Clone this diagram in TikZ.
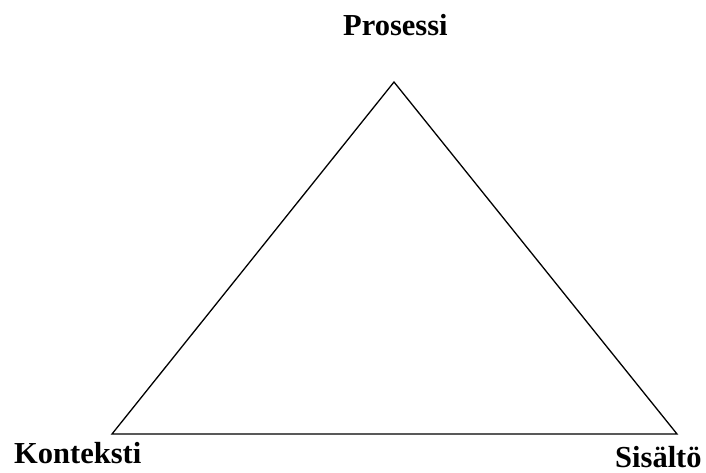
\documentclass[tikz,border=0pt]{standalone}
\usepackage{fontspec}
\setmainfont{Liberation Serif}
\usepackage{tikz}
\usetikzlibrary{positioning}

\tikzset{
    corner/.style={font=\fontsize{30.5}{36}\selectfont\bfseries, inner sep=0pt, anchor=base west},
    side/.style={line width=1.3pt}
}

\begin{document}
\begin{tikzpicture}[x=1pt, y=-1pt]
    \useasboundingbox (0,0) rectangle (706,473);

    % Corners of the triangle
    \coordinate (top) at (394,82);
    \coordinate (left) at (112,434);
    \coordinate (right) at (677,434);

    % Draw triangle
    \draw[side, line join=miter] (top) -- (left) -- (right) -- cycle;

    % Labels for corners
    \node[corner] (prosessi) at (343,36) {Prosessi};
    \node[corner] (konteksti) at (14,463) {Konteksti};
    \node[corner] (sisalto) at (615,467) {Sisältö};
\end{tikzpicture}
\end{document}
